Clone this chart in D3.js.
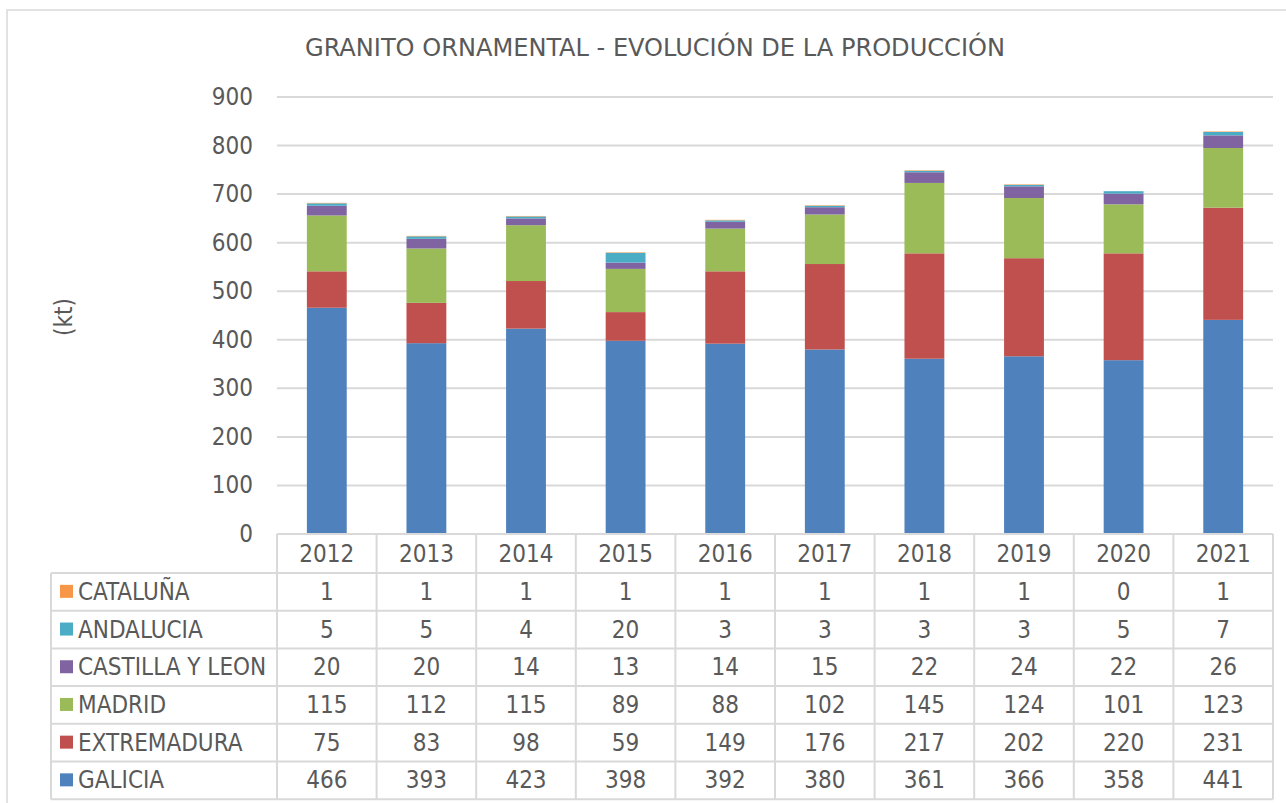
<!DOCTYPE html>
<html>
<head>
<meta charset="utf-8">
<script src="https://cdn.jsdelivr.net/npm/d3@7"></script>
<style>
  body { margin: 0; background: #fff; }
  text { font-family: "DejaVu Sans Condensed", "DejaVu Sans", Verdana, sans-serif; font-stretch: condensed; fill: #595959; }
</style>
</head>
<body>
<div id="chart"></div>
<script>
const years = ["2012", "2013", "2014", "2015", "2016", "2017", "2018", "2019", "2020", "2021"];
const regions = ["GALICIA", "EXTREMADURA", "MADRID", "CASTILLA Y LEON", "ANDALUCIA", "CATALUÑA"];
const galicia = [466, 393, 423, 398, 392, 380, 361, 366, 358, 441];
const extremadura = [75, 83, 98, 59, 149, 176, 217, 202, 220, 231];
const madrid = [115, 112, 115, 89, 88, 102, 145, 124, 101, 123];
const castilla = [20, 20, 14, 13, 14, 15, 22, 24, 22, 26];
const andalucia = [5, 5, 4, 20, 3, 3, 3, 3, 5, 7];
const cataluna = [1, 1, 1, 1, 1, 1, 1, 1, 0, 1];
const yTicks = [0, 100, 200, 300, 400, 500, 600, 700, 800, 900];
const colors = ["#4F81BD", "#C0504D", "#9BBB59", "#8064A2", "#4BACC6", "#F79646"];

const series = [galicia, extremadura, madrid, castilla, andalucia, cataluna];

var width = 1286, height = 803;
var fs = "24px";
var svg = d3.select("#chart").append("svg")
  .attr("width", width)
  .attr("height", height);

// chart border
svg.append("rect")
  .attr("x", 7).attr("y", 10)
  .attr("width", 1290).attr("height", 810)
  .attr("fill", "none").attr("stroke", "#d9d9d9").attr("stroke-width", 1.5);

svg.append("text")
  .attr("x", 655).attr("y", 56)
  .attr("text-anchor", "middle")
  .style("font-size", fs)
  .attr("textLength", 700)
  .attr("lengthAdjust", "spacingAndGlyphs")
  .text("GRANITO  ORNAMENTAL  -  EVOLUCIÓN  DE  LA  PRODUCCIÓN");

var plotLeft = 277, plotRight = 1273, plotTop = 97, plotBottom = 534;

var x = d3.scaleBand().domain(years).range([plotLeft, plotRight]).paddingInner(0.6).paddingOuter(0.3);
var xCol = d3.scaleBand().domain(years).range([plotLeft, plotRight]);
var y = d3.scaleLinear().domain([0, 900]).range([plotBottom, plotTop]);

// gridlines
svg.append("g").selectAll("line")
  .data(yTicks.slice(1))
  .enter().append("line")
  .attr("x1", plotLeft).attr("x2", plotRight)
  .attr("y1", d => y(d)).attr("y2", d => y(d))
  .attr("stroke", "#d9d9d9").attr("stroke-width", 2);

svg.append("g").selectAll("text")
  .data(yTicks)
  .enter().append("text")
  .attr("x", 253).attr("y", d => y(d) + 8)
  .attr("text-anchor", "end")
  .style("font-size", fs)
  .text(d => d);

svg.append("text")
  .attr("transform", "translate(72,317) rotate(-90)")
  .attr("text-anchor", "middle")
  .style("font-size", fs)
  .text("(kt)");

// stacked bars
var rows = years.map((yr, i) => {
  var o = { year: yr };
  regions.forEach((r, j) => o[r] = series[j][i]);
  return o;
});
var stacked = d3.stack().keys(regions)(rows);

svg.append("g").selectAll("g")
  .data(stacked)
  .enter().append("g")
  .attr("fill", (d, i) => colors[i])
  .selectAll("rect")
  .data(d => d)
  .enter().append("rect")
  .attr("x", d => x(d.data.year))
  .attr("width", x.bandwidth())
  .attr("y", d => y(d[1]))
  .attr("height", d => y(d[0]) - y(d[1]));

// data table
var rowH = 37.7;
var headTop = plotBottom, headBot = 573;
var tableRows = regions.slice().reverse();
var tableSeries = series.slice().reverse();
var tableColors = colors.slice().reverse();
var tableBot = headBot + rowH * tableRows.length;
var tbl = svg.append("g").attr("stroke", "#d9d9d9").attr("stroke-width", 2);

// vertical lines
tbl.selectAll(".v")
  .data(years.concat(["end"]))
  .enter().append("line")
  .attr("x1", d => d === "end" ? plotRight : xCol(d))
  .attr("x2", d => d === "end" ? plotRight : xCol(d))
  .attr("y1", headTop).attr("y2", tableBot);
tbl.append("line").attr("x1", 51).attr("x2", 51).attr("y1", headBot).attr("y2", tableBot);

// horizontal lines
tbl.selectAll(".h")
  .data(d3.range(tableRows.length + 1))
  .enter().append("line")
  .attr("x1", 51).attr("x2", plotRight)
  .attr("y1", i => headBot + i * rowH).attr("y2", i => headBot + i * rowH);
tbl.append("line").attr("x1", plotLeft).attr("x2", plotRight).attr("y1", headTop).attr("y2", headTop);

svg.append("g").selectAll("text")
  .data(years)
  .enter().append("text")
  .attr("x", d => xCol(d) + xCol.bandwidth() / 2)
  .attr("y", headTop + 28)
  .attr("text-anchor", "middle")
  .style("font-size", fs)
  .text(d => d);

tableRows.forEach((name, r) => {
  var cy = headBot + r * rowH + rowH / 2;
  svg.append("rect")
    .attr("x", 60).attr("y", cy - 7)
    .attr("width", 13).attr("height", 13)
    .attr("fill", tableColors[r]);
  svg.append("text")
    .attr("x", 78).attr("y", cy + 8)
    .style("font-size", fs)
    .text(name);
  svg.append("g").selectAll("text")
    .data(tableSeries[r])
    .enter().append("text")
    .attr("x", (d, i) => xCol(years[i]) + xCol.bandwidth() / 2)
    .attr("y", cy + 8)
    .attr("text-anchor", "middle")
    .style("font-size", fs)
    .text(d => d);
});
</script>
</body>
</html>
